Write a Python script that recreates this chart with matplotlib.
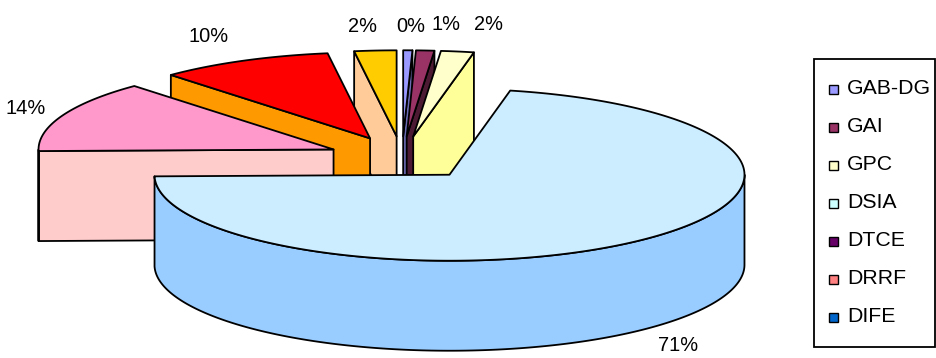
import numpy as np
import matplotlib
matplotlib.use("Agg")
import matplotlib.pyplot as plt
from matplotlib.patches import Polygon, Rectangle

# ---------------- data ----------------
categories = ["GAB-DG", "GAI", "GPC", "DSIA", "DTCE", "DRRF", "DIFE"]
values = [0.5, 1.0, 1.8, 71.4, 13.5, 9.5, 2.3]
pct_labels = ["0%", "1%", "2%", "71%", "14%", "10%", "2%"]

top_colors = ["#9999FF", "#993366", "#FFFFCC", "#CCECFF", "#FF99CC", "#FF0000", "#FFCC00"]
side_colors = ["#6B6BB3", "#4D1A33", "#FFFF99", "#99CCFF", "#FFCCCC", "#FF9900", "#FFCC99"]
legend_colors = ["#9999FF", "#993366", "#FFFFCC", "#CCFFFF", "#660066", "#FF8080", "#0066CC"]

# ---------------- layout / style ----------------
W, H = 937, 358
CX, CY = 402.0, 158.0      # pie centre (pixels)
RX, RY = 295.0, 86.0       # ellipse radii
DEPTH = 90.0               # thickness
EXPLODE = 0.2525           # explosion as fraction of radius
LW = 1.3
FONT = "Liberation Sans"
FS = 14.4
LEG_FS = 15.3
label_f = 1.22
label_nudge = [(2, -5), (17, -7), (21, -8), (-1, 0), (23, 0), (-7, -7), (-8, -5)]

fig = plt.figure(figsize=(W / 100, H / 100), dpi=100)
ax = fig.add_axes([0, 0, 1, 1])
ax.set_xlim(0, W)
ax.set_ylim(H, 0)
ax.axis("off")

vals = np.array(values, dtype=float)
fracs = vals / vals.sum()
starts = 90.0 - 360.0 * np.concatenate([[0], np.cumsum(fracs)[:-1]])
ends = starts - 360.0 * fracs


def pt(c, th):
    t = np.radians(th)
    return np.array([c[0] + RX * np.cos(t), c[1] - RY * np.sin(t)])


def arc(c, t1, t2):
    n = max(3, int(abs(t2 - t1) * 2))
    ts = np.linspace(t1, t2, n)
    return np.array([pt(c, t) for t in ts])


slices = []
for i in range(len(values)):
    t1, t2 = ends[i], starts[i]
    mid = np.radians((t1 + t2) / 2)
    c = np.array([CX + EXPLODE * RX * np.cos(mid), CY - EXPLODE * RY * np.sin(mid)])
    slices.append((c[1], i, c, t1, t2))

slices.sort(key=lambda s: s[0])
down = np.array([0, DEPTH])

for _, i, c, t1, t2 in slices:
    # radial faces
    if np.cos(np.radians(t1)) > 0:
        p = pt(c, t1)
        ax.add_patch(Polygon([c, p, p + down, c + down], closed=True,
                             facecolor=side_colors[i], edgecolor="black", lw=LW, joinstyle="round"))
    if np.cos(np.radians(t2)) < 0:
        p = pt(c, t2)
        ax.add_patch(Polygon([c, p, p + down, c + down], closed=True,
                             facecolor=side_colors[i], edgecolor="black", lw=LW, joinstyle="round"))
    # outer wall (front half)
    for k in (-1, 0, 1):
        lo, hi = -180 + 360 * k, 0 + 360 * k
        a, b = max(t1, lo), min(t2, hi)
        if b > a:
            top = arc(c, a, b)
            bot = top[::-1] + down
            ax.add_patch(Polygon(np.vstack([top, bot]), closed=True,
                                 facecolor=side_colors[i], edgecolor="black", lw=LW, joinstyle="round"))
    # top face
    ax.add_patch(Polygon(np.vstack([[c], arc(c, t1, t2)]), closed=True,
                         facecolor=top_colors[i], edgecolor="black", lw=LW, joinstyle="round"))

# percentage labels
for _, i, c, t1, t2 in slices:
    mid = np.radians((t1 + t2) / 2)
    x = c[0] + label_f * RX * np.cos(mid)
    y = c[1] - label_f * RY * np.sin(mid)
    if np.sin(mid) < 0:
        y += DEPTH
    x += label_nudge[i][0]
    y += label_nudge[i][1]
    ax.text(x, y, pct_labels[i], ha="center", va="center", fontsize=FS, family=FONT, color="black")

# legend
LX0, LY0, LX1, LY1 = 814, 59, 935, 347
ax.add_patch(Rectangle((LX0, LY0), LX1 - LX0, LY1 - LY0, facecolor="white", edgecolor="black", lw=LW))
entry_y0, entry_dy = 89, 38.0
for i, name in enumerate(categories):
    y = entry_y0 + i * entry_dy
    ax.add_patch(Rectangle((829, y - 4.5), 9, 9, facecolor=legend_colors[i], edgecolor="black", lw=1.0))
    ax.text(847, y, name, ha="left", va="center", fontsize=LEG_FS, family=FONT, color="black")

fig.savefig("out.png", dpi=100, facecolor="white")
